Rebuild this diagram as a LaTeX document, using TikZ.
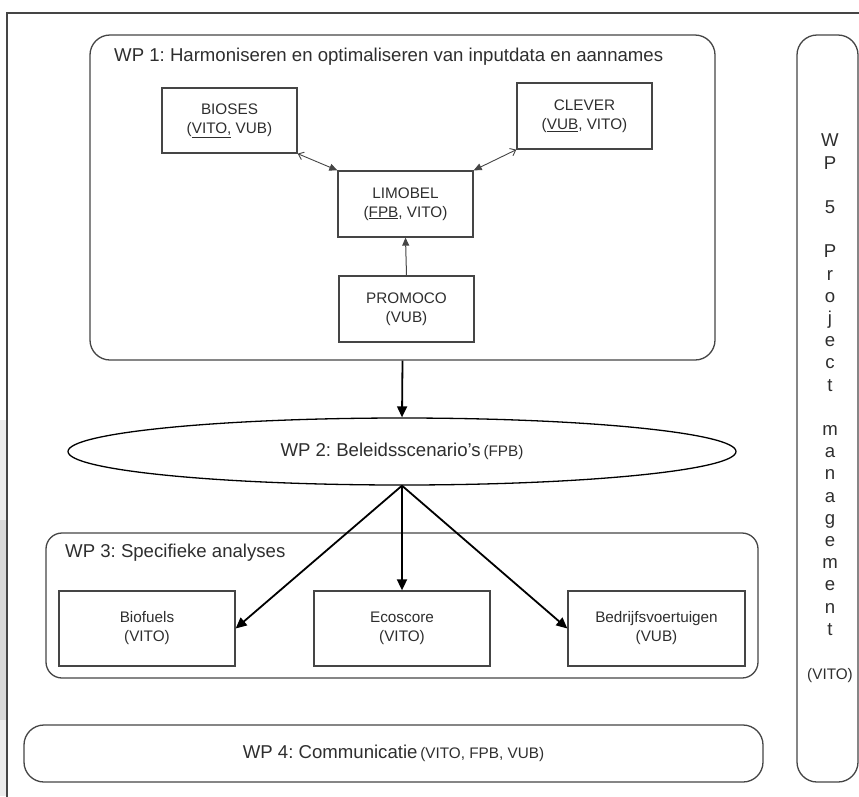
\documentclass[tikz,border=0pt]{standalone}
\usepackage{fontspec}
\setmainfont{Liberation Sans}
\usetikzlibrary{arrows.meta,shapes.geometric}
\frenchspacing
\definecolor{txt}{HTML}{2E2E2E}
\definecolor{ln}{HTML}{454545}
\newcommand{\bigf}{\fontsize{18.6}{22.2}\selectfont}
\newcommand{\smf}{\fontsize{15.3}{19}\selectfont}
\tikzset{
  container/.style={draw=ln, line width=1.3pt, rounded corners=20pt, inner sep=0pt},
  modbox/.style={draw=ln, line width=1.3pt, inner sep=0pt, align=center, text=txt, font=\smf},
  title/.style={anchor=west, inner sep=0pt, text=txt, font=\bigf},
  thinarrow/.style={draw=ln, line width=0.9pt, {Straight Barb[length=5pt,width=8pt]}-{Triangle[length=8pt,width=7pt]}},
  uparrow/.style={draw=ln, line width=1pt, -{Triangle[length=8pt,width=7pt]}},
  thickarrow/.style={draw=black, line width=1.8pt, -{Triangle[length=11pt,width=10pt]}},
}
\begin{document}
\begin{tikzpicture}[x=1pt,y=-1pt]
\useasboundingbox (0,0) rectangle (859,796);
\fill[gray!15] (0,420) rectangle (6,796);
\fill[gray!30] (0,520) rectangle (6,720);
% outer frame
\draw[draw=ln, line width=1.3pt] (7,805) |- (870,13);

% WP1
\node[container, minimum width=625pt, minimum height=325pt] (wp1) at (402.5,197.5) {};
\node[title] (wp1t) at (114,57) {WP 1: Harmoniseren en optimaliseren van inputdata en aannames};
\node[modbox, minimum width=135pt, minimum height=65pt] (bioses) at (229.5,120.5) {BIOSES\\(\underline{VITO,} VUB)};
\node[modbox, minimum width=135pt, minimum height=66pt] (clever) at (584.5,116) {CLEVER\\(\underline{VUB}, VITO)};
\node[modbox, minimum width=135pt, minimum height=66pt] (limobel) at (405.5,204) {LIMOBEL\\(\underline{FPB}, VITO)};
\node[modbox, minimum width=135pt, minimum height=66pt] (promoco) at (406.5,309) {PROMOCO\\(VUB)};
\draw[thinarrow] (bioses.south east) -- (limobel.north west);
\draw[thinarrow] (clever.south west) -- (limobel.north east);
\draw[uparrow] (promoco.north) -- (limobel.south);

% WP2
\node[ellipse, draw=black, line width=1.3pt, inner sep=0pt, minimum width=668pt, minimum height=67pt, text=txt] (wp2) at (402,451.5) {{\bigf WP 2: Beleidsscenario's} {\smf (FPB)}};
\draw[thickarrow] (wp1.south) -- (wp2.north);

% WP3
\node[container, rounded corners=16pt, minimum width=712pt, minimum height=145pt] (wp3) at (402,605.5) {};
\node[title] (wp3t) at (65,553) {WP 3: Specifieke analyses};
\node[modbox, minimum width=176pt, minimum height=75pt] (bio) at (147,628.5) {Biofuels\\(VITO)};
\node[modbox, minimum width=176pt, minimum height=75pt] (eco) at (402,628.5) {Ecoscore\\(VITO)};
\node[modbox, minimum width=177pt, minimum height=75pt] (bed) at (656.5,628.5) {Bedrijfsvoertuigen\\(VUB)};
\draw[thickarrow] (wp2.south) -- (bio.east);
\draw[thickarrow] (wp2.south) -- (eco.north);
\draw[thickarrow] (wp2.south) -- (bed.west);

% WP4
\node[container, minimum width=739pt, minimum height=57pt, text=txt] (wp4) at (393.5,753.5) {{\bigf WP 4: Communicatie} {\smf (VITO, FPB, VUB)}};

% WP5
\node[container, minimum width=61pt, minimum height=747pt] (wp5) at (827.5,408.5) {};
\node[align=center, inner sep=0pt, text=txt, font=\bigf] (wp5t) at (830,408.5)
  {W\\P\\~\\5\\~\\P\\r\\o\\j\\e\\c\\t\\~\\m\\a\\n\\a\\g\\e\\m\\e\\n\\t\\~\\{\fontsize{15.3}{22.2}\selectfont (VITO)}};
\end{tikzpicture}
\end{document}
